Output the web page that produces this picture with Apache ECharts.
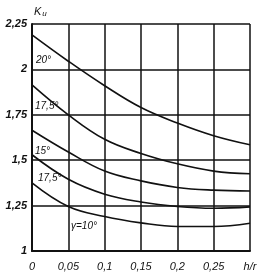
<!DOCTYPE html>
<html>
<head>
<meta charset="utf-8">
<script src="https://cdn.jsdelivr.net/npm/echarts@6/dist/echarts.min.js"></script>
<style>html,body{margin:0;padding:0;background:#fff}#c{width:260px;height:274px}</style>
</head>
<body>
<div id="c"></div>
<script>
var xValues = [0, 0.05, 0.1, 0.15, 0.2, 0.25, 0.3];
var k20   = [2.19, 2.045, 1.91, 1.79, 1.705, 1.635, 1.585];
var k175  = [1.915, 1.75, 1.615, 1.537, 1.48, 1.44, 1.425];
var k15   = [1.665, 1.545, 1.44, 1.386, 1.35, 1.335, 1.33];
var k125  = [1.53, 1.395, 1.313, 1.27, 1.245, 1.235, 1.243];
var k10   = [1.375, 1.245, 1.19, 1.155, 1.135, 1.135, 1.153];
var seriesNames = ['20°', '17,5°', '15°', '17,5°', 'γ=10°'];
var xTickLabels = {0: '0', 0.05: '0,05', 0.1: '0,1', 0.15: '0,15', 0.2: '0,2', 0.25: '0,25', 0.3: 'h/r'};
var yTickLabels = {1: '1', 1.25: '1,25', 1.5: '1,5', 1.75: '1,75', 2: '2', 2.25: '2,25'};

var allSeries = [k20, k175, k15, k125, k10];
function pairs(arr) { return arr.map(function (v, i) { return [xValues[i], v]; }); }

var font = {fontFamily: 'Liberation Sans', fontStyle: 'italic', fontSize: 11, color: '#111'};
var chart = echarts.init(document.getElementById('c'), null, {renderer: 'canvas'});
chart.setOption({
  animation: false,
  backgroundColor: '#fff',
  grid: {left: 32, right: 10, top: 24, bottom: 23},
  xAxis: {
    type: 'value', min: 0, max: 0.3, interval: 0.05,
    axisLine: {show: true, onZero: false, lineStyle: {color: '#111', width: 2}},
    axisTick: {show: false},
    splitLine: {show: true, lineStyle: {color: '#111', width: 1.5}},
    axisLabel: Object.assign({margin: 10, formatter: function (v) { var k = Math.round(v * 100) / 100; return xTickLabels[k] || ''; }}, font)
  },
  yAxis: {
    type: 'value', min: 1, max: 2.25, interval: 0.25,
    name: '{k|K}{u|u}', nameGap: 6,
    nameTextStyle: {align: 'left', padding: [0, 0, 0, 2], rich: {k: Object.assign({}, font, {fontSize: 11}), u: Object.assign({}, font, {fontSize: 8, verticalAlign: 'bottom', padding: [4, 0, 0, 1]})}},
    axisLine: {show: true, onZero: false, lineStyle: {color: '#111', width: 2}},
    axisTick: {show: false},
    splitLine: {show: true, lineStyle: {color: '#111', width: 1.5}},
    axisLabel: Object.assign({margin: 5, fontWeight: 'bold', formatter: function (v) { var k = Math.round(v * 100) / 100; return yTickLabels[k] || ''; }}, font)
  },
  series: allSeries.map(function (arr, i) {
    return {
      type: 'line', name: seriesNames[i], data: pairs(arr), smooth: 0.4,
      showSymbol: false, lineStyle: {color: '#111', width: 1.6}
    };
  }),
  graphic: [
    {type: 'text', left: 36, top: 55, style: Object.assign({text: seriesNames[0]}, {font: 'italic 10px "Liberation Sans"', fill: '#111'})},
    {type: 'text', left: 35, top: 101, style: {text: seriesNames[1], font: 'italic 10px "Liberation Sans"', fill: '#111'}},
    {type: 'text', left: 35, top: 146, style: {text: seriesNames[2], font: 'italic 10px "Liberation Sans"', fill: '#111'}},
    {type: 'text', left: 38, top: 173, style: {text: seriesNames[3], font: 'italic 10px "Liberation Sans"', fill: '#111'}},
    {type: 'text', left: 71, top: 221, style: {text: seriesNames[4], font: 'italic 10px "Liberation Sans"', fill: '#111'}}
  ]
});
</script>
</body>
</html>
